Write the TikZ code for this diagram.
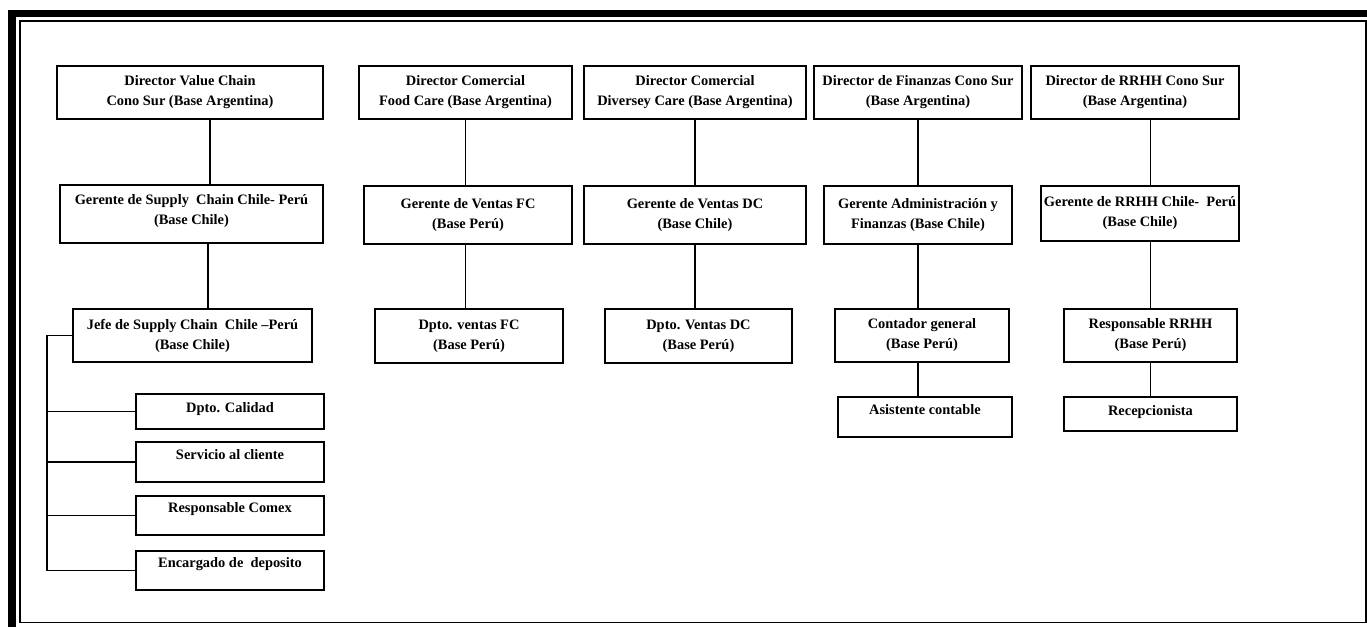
\documentclass[tikz,border=0pt]{standalone}
\usepackage{fontspec}
\setmainfont{Liberation Serif}
\usetikzlibrary{positioning}
\tikzset{
    box/.style={draw, line width=0.8pt, align=center, inner sep=0pt,
        font=\bfseries\fontsize{8.2}{11.4}\selectfont},
    link/.style={line width=0.8pt}
}
\begin{document}
\begin{tikzpicture}[x=0.02cm, y=-0.02cm]
\useasboundingbox (0,0) rectangle (1367,626);
%Marco
    \draw[line width=4.3pt] (12,13.5) rectangle (1420,680);
    \draw[line width=1.1pt] (20,21) rectangle (1366,622.5);

%Value Chain
    \node (A1) [box, minimum width=5.32cm, minimum height=1.06cm] at (190,92.5)
        {Director Value Chain \\ Cono Sur (Base Argentina)};
    \node (A2) [box, minimum width=5.26cm, minimum height=1.16cm, text depth=5pt] at (191.5,214)
        {Gerente de Supply\ \ Chain Chile- Perú \\ (Base Chile)};
    \node (A3) [box, minimum width=4.78cm, minimum height=1.06cm] at (192.5,335.5)
        {Jefe de Supply Chain\ \ Chile --Perú \\ (Base Chile)};
    \node (S1) [box, minimum width=3.76cm, minimum height=0.70cm, text depth=4pt] at (230,411.5)
        {Dpto. Calidad};
    \node (S2) [box, minimum width=3.76cm, minimum height=0.80cm, text depth=9pt] at (230,462)
        {Servicio al cliente};
    \node (S3) [box, minimum width=3.76cm, minimum height=0.78cm, text depth=9pt] at (230,515.5)
        {Responsable Comex};
    \node (S4) [box, minimum width=3.76cm, minimum height=0.78cm, text depth=9pt] at (230,570.5)
        {Encargado de\ \ deposito};
    \draw[link] ([xshift=0.4cm]A1.south) -- ([xshift=0.4cm]A1.south |- A2.north);
    \draw[link] ([xshift=0.33cm]A2.south) -- ([xshift=0.33cm]A2.south |- A3.north);
    \coordinate (spine) at (47,0);
    \draw[link] (A3.west) -| (spine |- S4.west) -- (S4.west);
    \foreach \s in {S1,S2,S3}{
        \draw[link] (spine |- \s.west) -- (\s.west);}

%Food Care
    \node (B1) [box, minimum width=4.26cm, minimum height=1.06cm] at (465.5,92.5)
        {Director Comercial \\ Food Care (Base Argentina)};
    \node (B2) [box, minimum width=4.16cm, minimum height=1.16cm] at (468,215)
        {Gerente de Ventas FC \\ (Base Perú)};
    \node (B3) [box, minimum width=3.76cm, minimum height=1.08cm] at (469,336)
        {Dpto. ventas FC \\ (Base Perú)};
    \draw[link] (B1.south) -- (B1.south |- B2.north);
    \draw[link] (B1.south |- B2.south) -- (B1.south |- B3.north);

%Diversey Care
    \node (C1) [box, minimum width=4.44cm, minimum height=1.06cm] at (695,92.5)
        {Director Comercial \\ Diversey Care (Base Argentina)};
    \node (C2) [box, minimum width=4.44cm, minimum height=1.16cm] at (695,215)
        {Gerente de Ventas DC \\ (Base Chile)};
    \node (C3) [box, minimum width=3.74cm, minimum height=1.08cm] at (698.5,336)
        {Dpto. Ventas DC \\ (Base Perú)};
    \draw[link] (C1.south) -- (C2.north);
    \draw[link] (C2.south) -- (C2.south |- C3.north);

%Finanzas
    \node (D1) [box, minimum width=4.16cm, minimum height=1.06cm] at (918,92.5)
        {Director de Finanzas Cono Sur \\ (Base Argentina)};
    \node (D2) [box, minimum width=3.76cm, minimum height=1.16cm] at (918,215)
        {Gerente Administración y \\ Finanzas (Base Chile)};
    \node (D3) [box, minimum width=3.48cm, minimum height=1.06cm] at (922,335.5)
        {Contador general \\ (Base Perú)};
    \node (D4) [box, minimum width=3.48cm, minimum height=0.80cm, text depth=9pt] at (925,417)
        {Asistente contable};
    \draw[link] (D1.south) -- (D2.north);
    \draw[link] (D2.south) -- (D2.south |- D3.north);
    \draw[link] (D2.south |- D3.south) -- (D2.south |- D4.north);

%RRHH
    \node (E1) [box, minimum width=4.16cm, minimum height=1.06cm] at (1135,92.5)
        {Director de RRHH Cono Sur \\ (Base Argentina)};
    \node (E2) [box, minimum width=3.96cm, minimum height=1.10cm] at (1140,213.5)
        {Gerente de RRHH Chile-\ \ Perú \\ (Base Chile)};
    \node (E3) [box, minimum width=3.46cm, minimum height=1.06cm] at (1150.5,335.5)
        {Responsable RRHH \\ (Base Perú)};
    \node (E4) [box, minimum width=3.46cm, minimum height=0.68cm, text depth=4pt] at (1150.5,414)
        {Recepcionista};
    \draw[link] (E3.north |- E1.south) -- (E3.north |- E2.north);
    \draw[link] (E3.north |- E2.south) -- (E3.north);
    \draw[link] (E3.south) -- (E4.north);

\end{tikzpicture}
\end{document}
